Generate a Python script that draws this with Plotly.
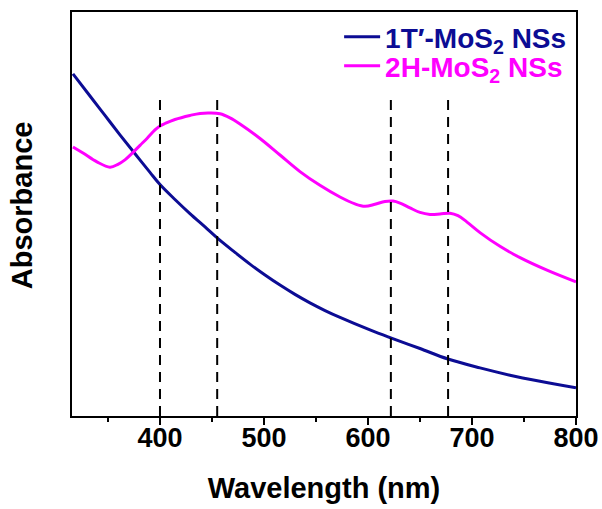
import plotly.graph_objects as go

# UV-vis absorption spectra of MoS2 nanosheets
wl_1t = [316.3, 332.7, 347.1, 361.5, 376.0, 390.4, 400.0, 414.4, 428.8, 443.3,
         455.8, 472.1, 486.5, 501.0, 515.4, 529.8, 544.2, 558.7, 573.1, 601.9,
         621.2, 650.0, 676.9, 707.7, 736.5, 765.4, 800.0]
abs_1t = [0.847, 0.792, 0.744, 0.696, 0.649, 0.603, 0.573, 0.536, 0.501, 0.468,
          0.439, 0.405, 0.376, 0.349, 0.324, 0.301, 0.280, 0.261, 0.244, 0.213,
          0.194, 0.167, 0.141, 0.119, 0.101, 0.086, 0.070]

wl_2h = [316.3, 326.0, 339.4, 351.9, 359.6, 366.3, 373.1, 380.8, 387.5, 395.2,
         400.0, 404.8, 414.4, 428.8, 438.5, 448.1, 457.7, 467.3, 476.9, 496.2,
         515.4, 534.6, 553.8, 573.1, 587.5, 597.1, 606.7, 616.3, 624.0, 630.8,
         640.4, 650.0, 659.6, 669.2, 678.8, 686.5, 695.2, 707.7, 726.9, 746.2,
         772.1, 800.0]
abs_2h = [0.666, 0.651, 0.629, 0.616, 0.623, 0.634, 0.650, 0.670, 0.687, 0.708,
          0.718, 0.724, 0.734, 0.744, 0.749, 0.750, 0.748, 0.738, 0.723, 0.687,
          0.646, 0.605, 0.571, 0.542, 0.525, 0.519, 0.524, 0.531, 0.532, 0.527,
          0.515, 0.504, 0.499, 0.500, 0.502, 0.496, 0.480, 0.454, 0.420, 0.392,
          0.361, 0.332]

# characteristic band positions (nm) marked by dashed guides
peak_positions = [400, 455, 622, 677]
guide_top = 0.79

series_colors = ["#0c0c94", "#ff00ff"]
series_names = ["1T′-MoS<sub>2</sub> NSs", "2H-MoS<sub>2</sub> NSs"]
x_ticks = [400, 500, 600, 700, 800]

FONT = "Liberation Sans, Arial, sans-serif"

fig = go.Figure()
for i, (wl, ab) in enumerate([(wl_1t, abs_1t), (wl_2h, abs_2h)]):
    fig.add_trace(go.Scatter(
        x=wl, y=ab, mode="lines",
        name=f'<span style="color:{series_colors[i]}">{series_names[i]}</span>',
        legend="legend" if i == 0 else "legend2",
        line=dict(color=series_colors[i], width=3, shape="spline", smoothing=1.0)))

for p in peak_positions:
    fig.add_shape(type="line", x0=p, x1=p, y0=0, y1=guide_top, xref="x", yref="y",
                  line=dict(color="black", width=2, dash="10px,7px"), layer="above")

legend_style = dict(xanchor="left", yanchor="top",
                    bgcolor="rgba(0,0,0,0)", borderwidth=0, itemwidth=36,
                    font=dict(family=FONT, size=28, weight="bold"))

# y-axis label placed as a rotated annotation
fig.add_annotation(text="Absorbance", textangle=-90, xref="paper", yref="paper",
                   x=-0.099, y=0.522, xanchor="center", yanchor="middle",
                   showarrow=False, font=dict(family=FONT, size=29, weight="bold"))

fig.update_layout(
    width=602, height=509,
    margin=dict(l=72, r=26, t=12, b=93),
    paper_bgcolor="white", plot_bgcolor="white",
    font=dict(family=FONT, color="black"),
    showlegend=True,
    legend=dict(x=0.53, y=1.0, **legend_style),
    legend2=dict(x=0.53, y=0.928, **legend_style),
    xaxis=dict(range=[315.4, 800], tickvals=x_ticks, ticktext=[str(t) for t in x_ticks],
               automargin=False,
               showline=True, linecolor="black", linewidth=2, mirror=True,
               ticks="outside", ticklen=7, tickwidth=2, tickcolor="black",
               minor=dict(dtick=50, tick0=350, ticks="outside", ticklen=4, tickwidth=2,
                          tickcolor="black"),
               showgrid=False, zeroline=False,
               ticklabelstandoff=-10,
               tickfont=dict(family=FONT, size=27, weight="bold"),
               title=dict(text="Wavelength (nm)", standoff=25,
                          font=dict(family=FONT, size=29, weight="bold"))),
    yaxis=dict(range=[0, 1], showticklabels=False, ticks="", automargin=False,
               showline=True, linecolor="black", linewidth=2, mirror=True,
               showgrid=False, zeroline=False),
)

fig.write_html("out.html")
